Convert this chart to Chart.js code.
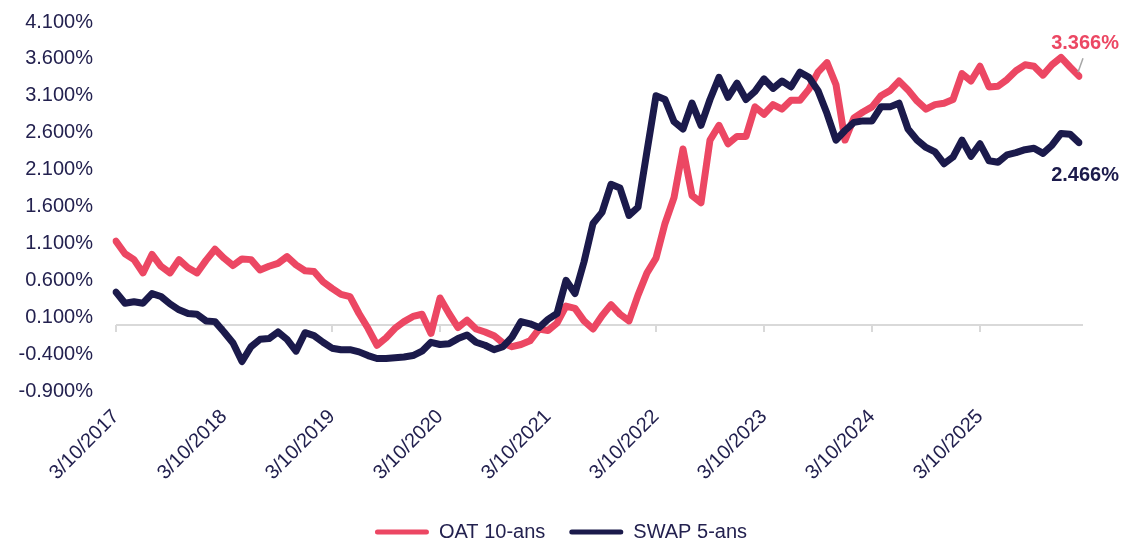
<!DOCTYPE html>
<html>
<head>
<meta charset="utf-8">
<script src="https://cdn.jsdelivr.net/npm/chart.js@4/dist/chart.umd.min.js"></script>
<style>
  html, body { margin:0; padding:0; background:#fff; }
  #wrap { width:1122px; height:544px; position:relative; }
</style>
</head>
<body>
<div id="wrap"><canvas id="c"></canvas></div>
<script>
// one point per month from 3/10/2017, values in %
const yearTicks = ['3/10/2017','3/10/2018','3/10/2019','3/10/2020','3/10/2021','3/10/2022','3/10/2023','3/10/2024','3/10/2025']
const PER_YEAR = 12

const oat10 = [
  1.13,0.96,0.88,0.70,0.95,0.79,0.70,0.88,0.77,0.70,0.87,1.02,
  0.90,0.80,0.89,0.88,0.74,0.79,0.83,0.92,0.81,0.73,0.72,0.58,
  0.49,0.41,0.38,0.15,-0.05,-0.28,-0.18,-0.05,0.04,0.11,0.14,-0.12,
  0.36,0.15,-0.04,0.06,-0.06,-0.10,-0.15,-0.25,-0.30,-0.27,-0.22,-0.06,
  -0.08,0.02,0.25,0.22,0.05,-0.06,0.12,0.27,0.14,0.05,0.40,0.70,
  0.90,1.37,1.72,2.38,1.75,1.65,2.50,2.70,2.45,2.55,2.55,2.95,
  2.85,2.98,2.92,3.04,3.04,3.19,3.42,3.55,3.25,2.50,2.80,2.88,
  2.95,3.10,3.17,3.30,3.18,3.03,2.92,2.98,3.00,3.05,3.40,3.30,
  3.50,3.22,3.23,3.32,3.44,3.52,3.50,3.38,3.52,3.62,3.49,3.366
]
const swap5 = [
  0.44,0.29,0.31,0.29,0.42,0.38,0.28,0.20,0.15,0.14,0.05,0.04,
  -0.10,-0.25,-0.50,-0.30,-0.20,-0.19,-0.10,-0.20,-0.36,-0.11,-0.15,-0.24,
  -0.32,-0.34,-0.34,-0.37,-0.42,-0.46,-0.46,-0.45,-0.44,-0.42,-0.36,-0.24,
  -0.27,-0.26,-0.19,-0.14,-0.24,-0.28,-0.34,-0.30,-0.17,0.04,0.01,-0.04,
  0.07,0.15,0.60,0.42,0.85,1.37,1.52,1.90,1.85,1.48,1.59,2.35,
  3.10,3.05,2.75,2.65,3.00,2.70,3.05,3.35,3.08,3.27,3.05,3.16,
  3.33,3.20,3.30,3.22,3.42,3.35,3.17,2.86,2.50,2.63,2.74,2.76,
  2.76,2.95,2.95,3.00,2.65,2.50,2.40,2.34,2.18,2.27,2.50,2.28,
  2.45,2.22,2.20,2.30,2.33,2.37,2.39,2.32,2.43,2.59,2.58,2.466
]

const C = { oat:'#EC4763', swap:'#1B1A4B', text:'#23214F', axis:'#D9D9D9', leader:'#A6A6A6' }
const FONT = 'Liberation Sans, Arial, sans-serif'

const labels = oat10.map((_, i) => i % PER_YEAR === 0 ? yearTicks[i / PER_YEAR] : '')

// horizontal axis drawn at 0 with yearly tick marks, plus end-of-line value labels
const zeroAxis = {
  id:'zeroAxis',
  beforeDatasetsDraw(chart) {
    const {ctx, chartArea, scales:{x, y}} = chart
    const y0 = Math.round(y.getPixelForValue(0))
    ctx.save()
    ctx.strokeStyle = C.axis
    ctx.lineWidth = 2
    ctx.beginPath()
    ctx.moveTo(chartArea.left, y0)
    ctx.lineTo(chartArea.right + 4, y0)
    yearTicks.forEach((_, k) => {
      const px = Math.round(x.getPixelForValue(k * PER_YEAR))
      ctx.moveTo(px, y0)
      ctx.lineTo(px, y0 + 7)
    })
    ctx.stroke()
    ctx.restore()
  },
  afterDatasetsDraw(chart) {
    const {ctx, scales:{x, y}} = chart
    const last = oat10.length - 1
    const px = x.getPixelForValue(last)
    const yo = y.getPixelForValue(oat10[last])
    const ys = y.getPixelForValue(swap5[last])
    ctx.save()
    ctx.strokeStyle = C.leader
    ctx.lineWidth = 1.5
    ctx.beginPath()
    ctx.moveTo(px - 1, yo - 4)
    ctx.lineTo(px + 4, yo - 18)
    ctx.stroke()
    ctx.font = 'bold 20px ' + FONT
    ctx.textAlign = 'right'
    ctx.textBaseline = 'middle'
    ctx.fillStyle = C.oat
    ctx.fillText(oat10[last].toFixed(3) + '%', 1119, yo - 33)
    ctx.fillStyle = C.swap
    ctx.fillText(swap5[last].toFixed(3) + '%', 1119, ys + 33)
    ctx.restore()
  }
}

new Chart(document.getElementById('c'), {
  type:'line',
  data:{
    labels,
    datasets:[
      { label:'OAT 10-ans', data:oat10, borderColor:C.oat, backgroundColor:C.oat, borderWidth:7, pointRadius:0, tension:0, borderJoinStyle:'round', borderCapStyle:'round', order:1 },
      { label:'SWAP 5-ans', data:swap5, borderColor:C.swap, backgroundColor:C.swap, borderWidth:7, pointRadius:0, tension:0, borderJoinStyle:'round', borderCapStyle:'round', order:0 }
    ]
  },
  options:{
    responsive:true, maintainAspectRatio:false, animation:false,
    layout:{ padding:{ left:0, right:0, top:22, bottom:-8 } },
    plugins:{
      tooltip:{ enabled:false },
      legend:{
        position:'bottom',
        labels:{
          color:C.text, font:{ family:FONT, size:20 }, boxWidth:54, boxHeight:5, padding:24,
          useBorderRadius:true, borderRadius:2.5,
          generateLabels: ch => ch.data.datasets.map((d, i) => ({
            text:d.label, fillStyle:d.borderColor, strokeStyle:d.borderColor, lineWidth:0,
            hidden:false, datasetIndex:i, fontColor:C.text, borderRadius:2.5
          }))
        }
      }
    },
    scales:{
      x:{
        grid:{ display:false }, border:{ display:false },
        afterFit: s => { s.height = 107; s.paddingRight = 43 },
        ticks:{ autoSkip:false, maxRotation:45, minRotation:45, padding:6, color:C.text, font:{ family:FONT, size:20 } }
      },
      y:{
        min:-0.9, max:4.1,
        grid:{ display:false, drawTicks:false }, border:{ display:false },
        afterFit: s => { s.width = 116; s.paddingTop = 11; s.paddingBottom = 11 },
        ticks:{ stepSize:0.5, padding:23, color:C.text, font:{ family:FONT, size:20 }, callback: v => v.toFixed(3) + '%' }
      }
    }
  },
  plugins:[zeroAxis]
})
</script>
</body>
</html>
